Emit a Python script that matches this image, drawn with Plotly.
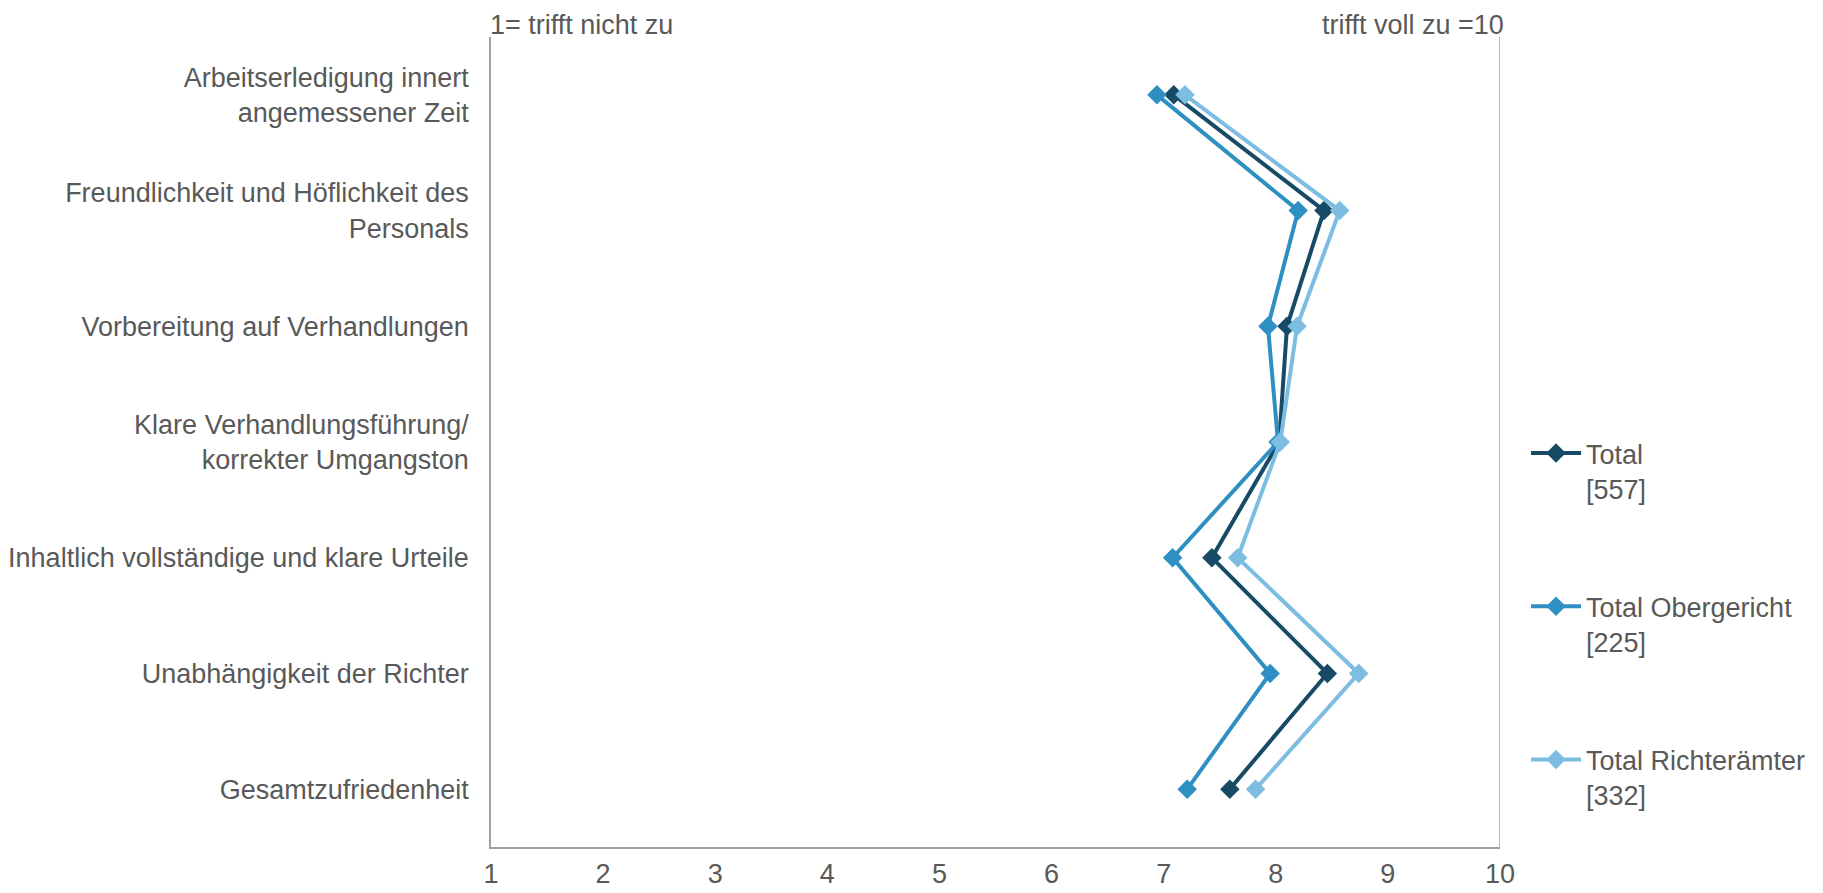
import plotly.graph_objects as go

categories = [
    "Arbeitserledigung innert<br>angemessener Zeit",
    "Freundlichkeit und Höflichkeit des<br>Personals",
    "Vorbereitung auf Verhandlungen",
    "Klare Verhandlungsführung/<br>korrekter Umgangston",
    "Inhaltlich vollständige und klare Urteile",
    "Unabhängigkeit der Richter",
    "Gesamtzufriedenheit",
]
total = [7.09, 8.43, 8.10, 8.03, 7.43, 8.46, 7.59]
obergericht = [6.94, 8.20, 7.93, 8.02, 7.08, 7.95, 7.21]
richteraemter = [7.19, 8.57, 8.19, 8.04, 7.66, 8.74, 7.82]
series_names = ["Total<br>[557]", "Total Obergericht<br>[225]", "Total Richterämter<br>[332]"]
colors = ["#174A65", "#2E8FC3", "#7DBDE1"]
x_ticks = [1, 2, 3, 4, 5, 6, 7, 8, 9, 10]

TXT = "#595959"
FONT = "Liberation Sans, Arial, sans-serif"
FS = 27

fig = go.Figure()
for i, (name, vals) in enumerate(zip(series_names, [total, obergericht, richteraemter])):
    fig.add_trace(go.Scatter(
        x=vals, y=categories, name=name, mode="lines+markers",
        line=dict(color=colors[i], width=4),
        marker=dict(symbol="diamond", size=15, color=colors[i]),
        legendgroup=f"g{i}",
    ))

fig.update_layout(
    width=1823, height=893,
    margin=dict(l=483, r=331, t=29, b=54),
    paper_bgcolor="white", plot_bgcolor="white",
    font=dict(family=FONT, size=FS, color=TXT),
    showlegend=True,
    legend=dict(x=1.0258, y=0.516, xanchor="left", yanchor="top",
                valign="top", tracegroupgap=80, itemwidth=50,
                font=dict(family=FONT, size=FS, color=TXT),
                bgcolor="rgba(0,0,0,0)"),
    xaxis=dict(range=[1, 10], tickvals=x_ticks, ticktext=[str(v) for v in x_ticks],
               showgrid=False, zeroline=False, showline=True, linecolor="#A0A0A0",
               linewidth=1.5, mirror=False, ticks="", ticklabelstandoff=2,
               automargin=False, tickfont=dict(size=FS, color=TXT)),
    yaxis=dict(categoryorder="array", categoryarray=categories,
               range=[6.5, -0.5], showgrid=False, zeroline=False,
               showline=True, linecolor="#A0A0A0", linewidth=1.5,
               ticks="", ticklabelstandoff=15, automargin=False,
               tickfont=dict(size=FS, color=TXT)),
    shapes=[dict(type="line", xref="x", yref="paper", x0=10, x1=10, y0=0, y1=1,
                 line=dict(color="#A0A0A0", width=1.5))],
    annotations=[
        dict(text="1= trifft nicht zu", xref="x", yref="paper", x=1, y=1,
             xanchor="left", yanchor="bottom", yshift=-5, xshift=-3, showarrow=False,
             font=dict(size=FS, color=TXT)),
        dict(text="trifft voll zu =10", xref="x", yref="paper", x=10, y=1,
             xanchor="right", yanchor="bottom", yshift=-5, xshift=6, showarrow=False,
             font=dict(size=FS, color=TXT)),
    ],
)

fig.write_html("out.html")
